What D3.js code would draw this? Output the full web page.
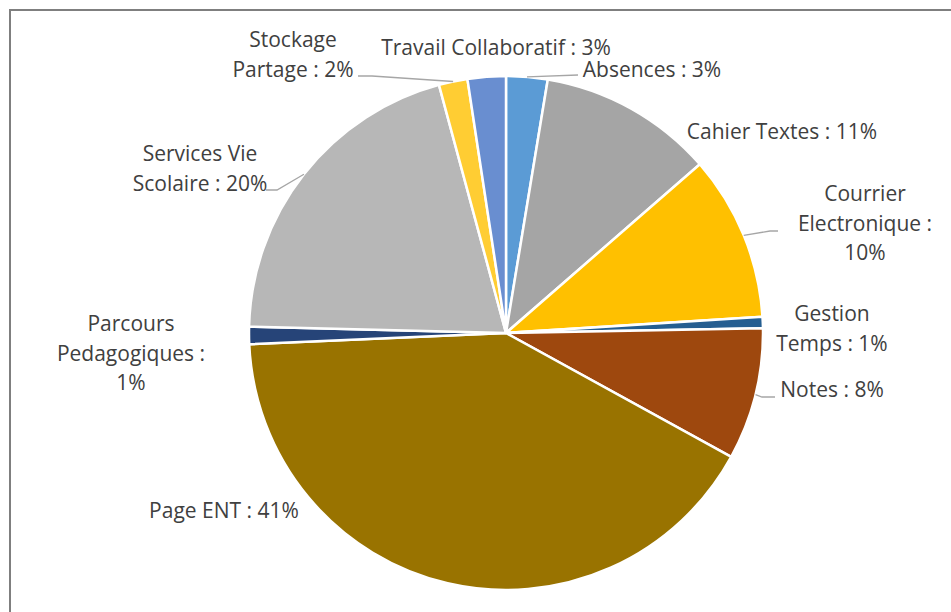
<!DOCTYPE html>
<html>
<head>
<meta charset="utf-8">
<script src="https://cdn.jsdelivr.net/npm/d3@7"></script>
<style>
  body { margin: 0; background: #fff; }
  text { font-family: "Open Sans", Lato, sans-serif; fill: #404040; }
</style>
</head>
<body>
<script>
// categories + shares (%), clockwise from 12 o'clock
var categories = ["Absences", "Cahier Textes", "Courrier Electronique", "Gestion Temps", "Notes",
                  "Page ENT", "Parcours Pedagogiques", "Services Vie Scolaire", "Stockage Partage", "Travail Collaboratif"];
var values = [2.6, 11.0, 10.4, 0.7, 8.3, 41.3, 1.1, 20.4, 1.8, 2.4];
var labels = [["Absences : 3%"], ["Cahier Textes : 11%"], ["Courrier", "Electronique :", "10%"],
              ["Gestion", "Temps : 1%"], ["Notes : 8%"], ["Page ENT : 41%"],
              ["Parcours", "Pedagogiques :", "1%"], ["Services Vie", "Scolaire : 20%"],
              ["Stockage", "Partage : 2%"], ["Travail Collaboratif : 3%"]];
var colors = ["#5B9BD5", "#A5A5A5", "#FFC000", "#255E91", "#9E480E",
              "#997300", "#264478", "#B7B7B7", "#FFCD33", "#698ED0"];

// label placement (first baseline) and optional leader end
var labelPos = [
  {x: 652, y: 77, leader: [[578, 75]]},
  {x: 782, y: 139},
  {x: 865, y: 201, leader: [[770, 231], [778, 231]]},
  {x: 832, y: 321},
  {x: 832, y: 397, leader: [[762, 397], [775, 397]]},
  {x: 224, y: 518},
  {x: 131, y: 331},
  {x: 200, y: 161, leader: [[277, 190], [266, 190]]},
  {x: 293, y: 47, leader: [[372, 76], [358, 76]]},
  {x: 496, y: 55}
];

var W = 951, H = 612;
var cx = 506, cy = 333, R = 257;
var lineH = 29.5;

var svg = d3.select("body").append("svg").attr("width", W).attr("height", H);

// chart frame
svg.append("rect").attr("x", 10).attr("y", 10).attr("width", W + 20).attr("height", H + 20)
   .attr("fill", "none").attr("stroke", "#7f7f7f").attr("stroke-width", 2);

var pie = d3.pie().sort(null).value(function(d) { return d; });
var arcs = pie(values);
var arc = d3.arc().innerRadius(0).outerRadius(R);

var g = svg.append("g").attr("transform", "translate(" + cx + "," + cy + ")");
g.selectAll("path").data(arcs).enter().append("path")
  .attr("d", arc)
  .attr("fill", function(d, i) { return colors[i]; })
  .attr("stroke", "#fff").attr("stroke-width", 2.5).attr("stroke-linejoin", "round");

// leader lines start on the outer edge at the slice mid angle
arcs.forEach(function(a, i) {
  var p = labelPos[i];
  if (!p.leader) return;
  var mid = (a.startAngle + a.endAngle) / 2;
  var pts = [[cx + R * Math.sin(mid), cy - R * Math.cos(mid)]].concat(p.leader);
  svg.append("path").attr("d", d3.line()(pts))
     .attr("fill", "none").attr("stroke", "#a6a6a6").attr("stroke-width", 1.3);
});

labels.forEach(function(lines, i) {
  var p = labelPos[i];
  var t = svg.append("text").attr("text-anchor", "middle").attr("font-size", 21);
  lines.forEach(function(s, k) {
    t.append("tspan").attr("x", p.x).attr("y", p.y + k * lineH).text(s);
  });
});
</script>
</body>
</html>
